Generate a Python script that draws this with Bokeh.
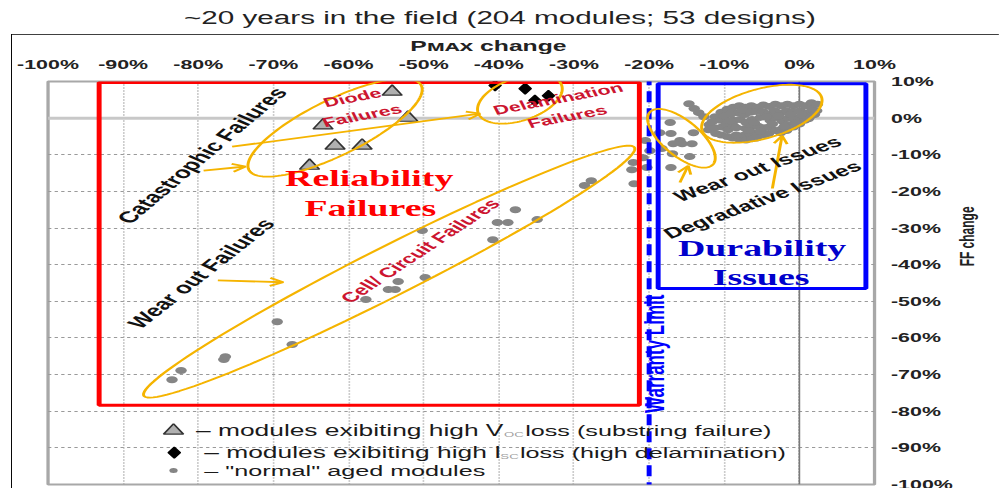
import math
import numpy as np
from bokeh.plotting import figure
from bokeh.layouts import column
from bokeh.models import (Label, BoxAnnotation, Arrow, OpenHead, Span, FixedTicker,
                          PrintfTickFormatter, PolyAnnotation, Div, InlineStyleSheet)
from bokeh.embed import file_html
from bokeh.resources import INLINE

# ---------------- data (PMAX change %, FF change %) ----------------
# "normal" aged modules
normal_pmax = [
    # degradative cluster near 0 %
    -12.0, -12.1, -11.2, -11.3, -11.1, -10.4, -10.5, -10.3, -10.4,
    -9.6, -9.7, -9.5, -9.6, -8.8, -8.9, -8.7, -8.8, -8.9,
    -8.0, -8.1, -7.9, -8.0, -7.2, -7.3, -7.1, -7.2, -7.3, -7.1,
    -6.4, -6.5, -6.3, -6.4, -6.5, -6.3, -5.6, -5.7, -5.5, -5.6, -5.7,
    -4.8, -4.9, -4.7, -4.8, -4.0, -4.1, -3.9, -4.0, -4.1,
    -3.2, -3.3, -3.1, -3.2, -2.4, -2.5, -2.3, -2.4, -2.5,
    -1.6, -1.7, -1.5, -1.6, -1.7, -0.8, -0.9, -0.7, -0.8,
    0.0, 0.1, -0.1, 0.0, 0.8, 0.9, 0.7, 1.6, 1.7, 1.5, 2.4, 2.3,
    -11.6, -10.0, -9.2, -8.4, -7.6, -6.0, -5.2, -4.4, -3.6, -2.8,
    -2.0, -1.2, -0.4, 0.4, 1.2, 2.0, -6.8, -8.4, -9.2, -5.2,
    # wear-out cluster left of the degradative one
    -14.7, -14.0, -13.4, -12.7, -17.2, -18.6, -17.1, -15.9, -14.3, -15.6,
    -18.3, -14.6, -17.1, -14.1, -16.8, -16.9,
    # near the warranty limit
    -22.1, -22.3, -22.0, -20.8, -19.9, -20.5, -20.3,
    # cell / circuit failures
    -83.5, -82.3, -76.6, -76.4, -69.5, -67.5, -57.7, -54.7, -53.8, -53.4,
    -49.8, -50.2, -40.8, -40.2, -38.8, -37.8, -34.9, -28.6, -27.7,
]
normal_ff = [
    -1.8, -3.2, 0.4, -2.6, -4.2, 1.6, -0.6, -2.4, -4.6,
    2.4, -1.6, -3.2, -5.0, 3.0, 1.6, -0.6, -2.0, -5.4,
    3.4, 1.4, -0.4, -5.8, 3.0, 1.0, -1.2, -2.8, -4.6, -6.0,
    3.4, 1.6, -0.4, -2.4, -4.4, -5.6, 3.0, 1.8, -2.2, -4.0, -5.4,
    3.6, 1.8, -2.6, -4.6, 3.2, 1.2, -0.6, -2.4, -4.2,
    3.8, 2.0, 0.2, -3.4, 3.4, 1.4, -0.8, -3.0, -4.0,
    3.8, 2.0, 0.0, -1.8, -3.4, 3.4, 1.6, -0.4, -2.4,
    3.8, 2.0, 0.2, -1.6, 3.4, 1.4, -0.6, 4.2, 2.4, 0.6, 3.8, 2.0,
    -1.0, 0.6, -0.8, -2.6, 2.2, -1.2, 0.2, 0.4, -1.6, 0.6,
    -2.2, 1.0, -1.4, 0.8, -0.2, 1.0, -3.4, -4.6, 1.0, -3.6,
    3.9, 2.6, 1.5, 0.4, -1.2, -4.0, -4.2, -6.1, -7.0, -7.0,
    -8.3, -10.5, -13.5, -4.0, -7.0, -9.7,
    -12.1, -14.1, -17.9, -10.8, -8.9, -6.1, -13.5,
    -71.4, -68.9, -65.9, -65.1, -55.6, -61.8, -49.5, -46.8, -46.8, -44.6,
    -43.5, -30.7, -33.2, -28.5, -28.5, -25.0, -27.7, -18.4, -17.1,
]
# modules exhibiting high Voc loss (substring failure)
voc_pmax = [-54.2, -52.1, -63.4, -61.8, -58.2, -65.2]
voc_ff = [7.2, 0.1, -2.0, -7.5, -7.5, -13.0]
# modules exhibiting high Isc loss (high delamination)
isc_pmax = [-40.5, -36.5, -35.2, -33.4]
isc_ff = [8.9, 8.05, 4.8, 6.1]

ticks = [-100, -90, -80, -70, -60, -50, -40, -30, -20, -10, 0, 10]
warranty_limit = -20

# ---------------- styling ----------------
S = 1.6464                 # horizontal stretch of the original picture
PXX, PXY = 7.5146, 3.664   # visual px per data unit (x, y)
ORANGE = "#f5b400"
CRIMSON = "#cc1530"
FONT = "Liberation Sans"


def ang(vis_deg):
    """visual angle -> canvas angle (canvas is stretched horizontally by S)"""
    return math.degrees(math.atan2(math.sin(math.radians(vis_deg)) * S,
                                   math.cos(math.radians(vis_deg))))


p = figure(width=600, height=458, x_range=(-100, 10), y_range=(-100, 10),
           x_axis_location="above", y_axis_location="right",
           output_backend="svg", toolbar_location=None,
           min_border_left=22, min_border_right=76, min_border_top=47, min_border_bottom=8)
p.margin = (0, 0, 0, 11)
p.stylesheets = [InlineStyleSheet(css=(
    ":host { overflow: visible; }"
    f":host > div {{ transform: scaleX({S}); transform-origin: 0 0;"
    " outline: 1.3px solid #000; outline-offset: -1.3px; }"))]
p.background_fill_color = "white"
p.border_fill_color = "white"
p.outline_line_color = "#a8a8a8"
p.outline_line_width = 2

# P_MAX change (top axis title)
p.title.text = "P\u1d0d\u1d00x change"
p.title.align = "left"
p.title.offset = 220
p.title.standoff = 0
p.title.text_font = FONT
p.title.text_font_style = "bold"
p.title.text_font_size = "15px"
p.title.text_color = "#222222"

for ax in (p.xaxis[0], p.yaxis[0]):
    ax.ticker = FixedTicker(ticks=ticks)
    ax.formatter = PrintfTickFormatter(format="%d%%")
    ax.axis_line_color = None
    ax.major_tick_line_color = None
    ax.minor_tick_line_color = None
    ax.major_tick_out = 0
    ax.major_tick_in = 0
    ax.major_label_text_font = FONT
    ax.major_label_text_font_style = "bold"
    ax.major_label_text_font_size = "13px"
    ax.major_label_text_color = "#222222"
p.xaxis.major_label_standoff = 9
p.yaxis.major_label_standoff = 10

yax = p.yaxis[0]
ff_label = "FF change"
if "axis_label_orientation" in yax.properties():
    yax.axis_label_orientation = math.pi / 2          # read bottom-to-top
    ff_label = "\u00a0" * 5 + ff_label                # shift centre upwards
yax.axis_label = ff_label
yax.axis_label_standoff = 6
yax.axis_label_text_font = FONT
yax.axis_label_text_font_style = "bold"
yax.axis_label_text_font_size = "12px"
yax.axis_label_text_color = "#222222"

p.xgrid.grid_line_color = "#9a9a9a"
p.xgrid.grid_line_dash = "1 2"
p.ygrid.grid_line_color = "#9a9a9a"
p.ygrid.grid_line_dash = "2 2"

p.add_layout(Span(location=0, dimension="height", line_color="#7a7a7a", line_width=1, level="underlay"))
p.add_layout(Span(location=0, dimension="width", line_color="#c8c8c8", line_width=3, level="underlay"))

# ---------------- marks ----------------
p.scatter(normal_pmax, normal_ff, marker="circle", size=7, fill_color="#858585", line_color=None)
p.scatter(voc_pmax, voc_ff, marker="triangle", size=12, fill_color="#b0b0b0",
          line_color="#333333", line_width=1.2)
p.scatter(isc_pmax, isc_ff, marker="diamond", size=11, fill_color="black", line_color="black")

# ---------------- annotations ----------------
p.add_layout(BoxAnnotation(left=-93.2, right=-21.3, top=9.75, bottom=-78.4,
                           fill_color=None, line_color="#ff0000", line_alpha=1, line_width=3))
p.add_layout(BoxAnnotation(left=-18.8, right=8.85, top=9.4, bottom=-46.5,
                           fill_color=None, line_color="#0000ff", line_alpha=1, line_width=3))
# warranty limit line
p.add_layout(Arrow(start=None, end=None, x_start=warranty_limit, y_start=12,
                   x_end=warranty_limit, y_end=-101, line_color="#0000ff",
                   line_width=3, line_dash="11 6"))


def ellipse(cx, cy, a, b, vis_deg, n=120):
    t = np.linspace(0, 2 * np.pi, n)
    th = math.radians(vis_deg)
    dx = a * np.cos(t) * math.cos(th) - b * np.sin(t) * math.sin(th)
    dy = a * np.cos(t) * math.sin(th) + b * np.sin(t) * math.cos(th)
    return list(cx + dx / PXX), list(cy + dy / PXY)


for (cx, cy, a, b, th) in [(-61.8, -2.6, 96, 28, 26),     # diode
                           (-37.2, 5.2, 44, 21.5, 18),     # delamination
                           (-54.6, -41.9, 275, 25, 26.8),  # cell / circuit
                           (-15.7, -5.5, 41, 18, -39),     # wear-out issues
                           (-5.0, 1.2, 62, 25, 15)]:       # degradative issues
    xs, ys = ellipse(cx, cy, a, b, th)
    p.add_layout(PolyAnnotation(xs=xs, ys=ys, fill_color=None, line_color=ORANGE,
                                line_alpha=1, line_width=1.8))

for (x0, y0, x1, y1) in [(-79.3, -14.3, -73.7, -13.2),
                         (-75.5, -7.8, -42.5, 1.2),
                         (-77.4, -44.3, -68.7, -44.8),
                         (-15.9, -17.6, -14.8, -13.0),
                         (-3.6, -19.2, -2.3, -4.8)]:
    p.add_layout(Arrow(x_start=x0, y_start=y0, x_end=x1, y_end=y1, line_color=ORANGE, line_width=1.8,
                       end=OpenHead(size=8, line_color=ORANGE, line_width=1.8)))


def label(x, y, text, size, color="#111111", style="bold", font=FONT, vis_angle=0,
          align="center", baseline="middle"):
    p.add_layout(Label(x=x, y=y, text=text, angle=ang(vis_angle), angle_units="deg",
                       text_font=font, text_font_size=f"{size}px", text_font_style=style,
                       text_color=color, text_align=align, text_baseline=baseline))


# in-plot texts
label(-79.5, -10.2, "Catastrophic Failures", 16, vis_angle=40)
label(-79.6, -42.4, "Wear out Failures", 16, vis_angle=38)
label(-59.5, 5.6, "Diode", 13, CRIMSON, vis_angle=10.5)
label(-58.2, 0.7, "Failures", 13, CRIMSON, vis_angle=10.5)
label(-32.1, 5.3, "Delamination", 13, CRIMSON, vis_angle=10.5)
label(-30.9, 0.4, "Failures", 13, CRIMSON, vis_angle=10.5)
label(-50.5, -36.2, "Cell/ Circuit Failures", 14, CRIMSON, vis_angle=33.5)
label(-57.25, -16.5, "Reliability", 23, "#ff0000", font="Liberation Serif")
label(-57.1, -24.7, "Failures", 23, "#ff0000", font="Liberation Serif")
label(-4.96, -35.6, "Durability", 23, "#0000cc", font="Liberation Serif")
label(-5.1, -43.5, "Issues", 23, "#0000cc", font="Liberation Serif")
label(-5.6, -13.8, "Wear out Issues", 15, vis_angle=19.5)
label(-4.96, -22.2, "Degradative Issues", 15, vis_angle=20)
label(-19.2, -64.3, "Warranty Limit", 17, "#0000ff", vis_angle=90)

# legend
p.scatter([-83.3], [-85.3], marker="triangle", size=12, fill_color="#b0b0b0",
          line_color="#333333", line_width=1.2)
p.scatter([-83.2], [-91.3], marker="diamond", size=11, fill_color="black", line_color="black")
p.scatter([-83.3], [-96.2], marker="circle", size=5, fill_color="#858585", line_color=None)
label(-80.3, -85.3, "– modules exibiting high V", 16, "#1a1a1a", "normal", align="left")
label(-39.3, -86.4, "OC", 8, "#a0a0a0", "normal", align="left")
label(-36.5, -85.3, "loss (substring failure)", 15.3, "#1a1a1a", "normal", align="left")
label(-79.2, -91.3, "– modules exibiting high I", 16, "#1a1a1a", "normal", align="left")
label(-39.8, -92.4, "SC", 8, "#a0a0a0", "normal", align="left")
label(-37.2, -91.3, "loss (high delamination)", 15.3, "#1a1a1a", "normal", align="left")
label(-79.2, -96.2, "– \"normal\" aged modules", 15.3, "#1a1a1a", "normal", align="left")

title = Div(text=('<span style="display:inline-block;transform:scaleX(%s);">'
                  '~20 years in the field (204 modules; 53 designs)</span>' % S),
            width=984, height=34, margin=(0, 0, 0, 8),
            styles={"text-align": "center", "font-family": FONT, "font-size": "18px",
                    "line-height": "20px", "padding-top": "8px", "color": "#222222"})

page = column(title, p, spacing=0, margin=(0, 0, 0, 0))

open("out.html", "w").write(file_html(page, INLINE))
